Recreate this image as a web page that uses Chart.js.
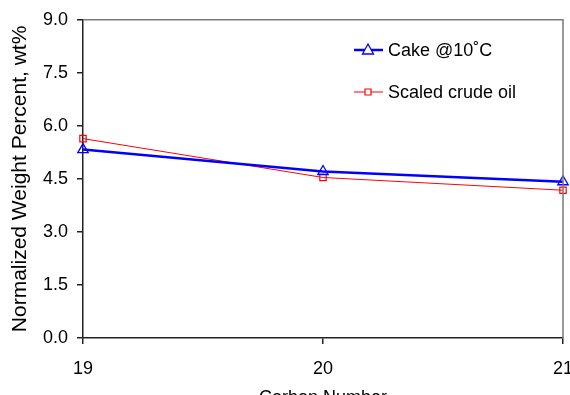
<!DOCTYPE html>
<html>
<head>
<meta charset="utf-8">
<script src="https://cdn.jsdelivr.net/npm/chart.js@4.4.1/dist/chart.umd.min.js"></script>
<style>
html,body{margin:0;padding:0;background:#fff;overflow:hidden;}
#clip{position:relative;width:570px;height:395px;overflow:hidden;}
#wrap{position:absolute;left:0;top:0;width:600px;height:420px;}
</style>
</head>
<body>
<div id="clip"><div id="wrap"><canvas id="c" width="600" height="420"></canvas></div></div>
<script>
const carbonNumbers = [19, 20, 21];
const cakeValues = [5.33, 4.71, 4.42];
const crudeValues = [5.64, 4.54, 4.18];
const yTicks = [0, 1.5, 3.0, 4.5, 6.0, 7.5, 9.0];
const seriesLabels = ["Cake @10\u02DAC", "Scaled crude oil"];
const xTitle = "Carbon Number";
const yTitle = "Normalized Weight Percent, wt%";

const FONT = "'Liberation Sans', Arial, sans-serif";

const frame = {
  id: 'frame',
  afterDatasetsDraw(chart) {
    const {ctx, chartArea: a} = chart;
    ctx.save();
    ctx.strokeStyle = '#7a7a7a';
    ctx.lineWidth = 1.5;
    ctx.beginPath();
    ctx.moveTo(a.left, a.top);
    ctx.lineTo(a.right, a.top);
    ctx.lineTo(a.right, a.bottom);
    ctx.stroke();
    ctx.restore();
  },
  afterDraw(chart) {
    const ctx = chart.ctx;
    const items = [
      {ds: chart.data.datasets[0], y: 50, shape: 'triangle'},
      {ds: chart.data.datasets[1], y: 92, shape: 'rect'}
    ];
    ctx.save();
    items.forEach(it => {
      ctx.strokeStyle = it.ds.borderColor;
      ctx.lineWidth = it.ds.borderWidth;
      ctx.beginPath();
      ctx.moveTo(354, it.y);
      ctx.lineTo(383, it.y);
      ctx.stroke();
      ctx.lineWidth = it.ds.pointBorderWidth;
      ctx.fillStyle = '#fff';
      ctx.beginPath();
      if (it.shape === 'triangle') {
        ctx.moveTo(368, it.y - 6);
        ctx.lineTo(373.5, it.y + 4);
        ctx.lineTo(362.5, it.y + 4);
        ctx.closePath();
      } else {
        ctx.rect(365, it.y - 3, 6, 6);
      }
      ctx.fill();
      ctx.stroke();
      ctx.fillStyle = '#000';
      ctx.font = '18px ' + FONT;
      ctx.textBaseline = 'middle';
      ctx.textAlign = 'left';
      ctx.fillText(it.ds.label, 388, it.y + 1);
    });
    ctx.restore();
  }
};

new Chart(document.getElementById('c'), {
  type: 'line',
  data: {
    datasets: [
      {
        label: seriesLabels[0],
        data: carbonNumbers.map((x, i) => ({x, y: cakeValues[i]})),
        borderColor: '#0000ff',
        borderWidth: 2.5,
        pointStyle: 'triangle',
        pointRadius: 6,
        pointBorderWidth: 1.3,
        pointBackgroundColor: 'rgba(255,255,255,0)',
        pointBorderColor: '#0000ff',
        clip: false,
        order: 1
      },
      {
        label: seriesLabels[1],
        data: carbonNumbers.map((x, i) => ({x, y: crudeValues[i]})),
        borderColor: '#ff0000',
        borderWidth: 1,
        pointStyle: 'rect',
        pointRadius: 4.5,
        pointBorderWidth: 1.2,
        pointBackgroundColor: 'rgba(255,255,255,0)',
        pointBorderColor: '#ff0000',
        clip: false,
        order: 2
      }
    ]
  },
  options: {
    responsive: false,
    devicePixelRatio: 1,
    animation: false,
    layout: {padding: {left: 0, top: 15, right: 37, bottom: 0}},
    plugins: {legend: {display: false}, tooltip: {enabled: false}},
    scales: {
      x: {
        type: 'linear',
        min: 19, max: 21,
        afterBuildTicks: s => { s.ticks = carbonNumbers.map(v => ({value: v})); },
        afterFit: s => { s.height = 82; },
        grid: {drawOnChartArea: false, drawTicks: true, tickLength: 6, color: '#222', lineWidth: 1.5},
        border: {color: '#222', width: 1.5},
        ticks: {color: '#000', font: {family: FONT, size: 18}, padding: 14, maxRotation: 0, callback: v => String(v)},
        title: {display: true, text: xTitle, color: '#000', font: {family: FONT, size: 18}, padding: {top: 0, bottom: 11}}
      },
      y: {
        min: 0, max: 9,
        afterBuildTicks: s => { s.ticks = yTicks.map(v => ({value: v})); },
        afterFit: s => { s.width = 83; },
        grid: {drawOnChartArea: false, drawTicks: true, tickLength: 6, color: '#222', lineWidth: 1.5},
        border: {color: '#222', width: 1.5},
        ticks: {color: '#000', font: {family: FONT, size: 18}, padding: 9, callback: v => v.toFixed(1)},
        title: {display: true, text: yTitle, color: '#000', font: {family: FONT, size: 21}, padding: {top: 8, bottom: 0}}
      }
    }
  },
  plugins: [frame]
});
</script>
</body>
</html>
